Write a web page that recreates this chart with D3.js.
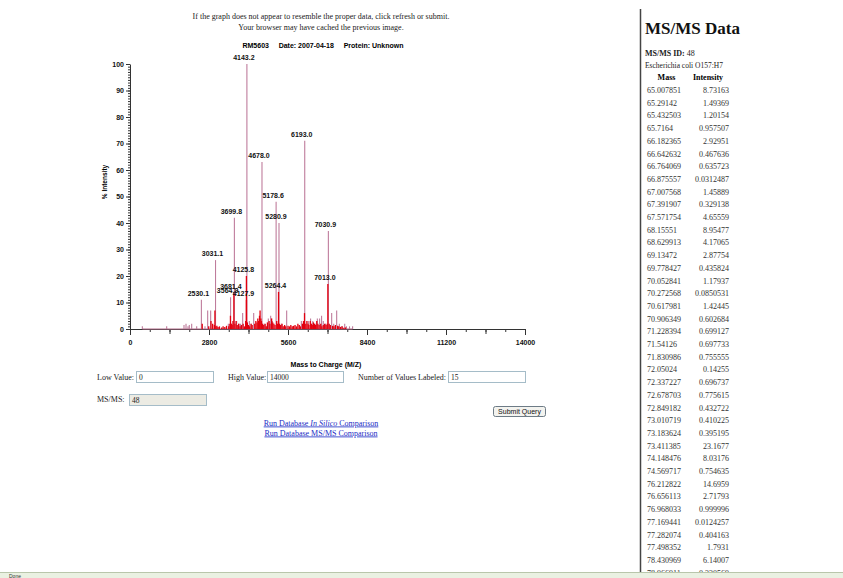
<!DOCTYPE html>
<html>
<head>
<meta charset="utf-8">
<script src="https://cdn.jsdelivr.net/npm/d3@7"></script>
<style>
body { margin: 0; background: #fff; }
svg { display: block; }
</style>
</head>
<body>
<svg id="page" width="843" height="578"></svg>
<script>
// single sharp peaks (drawn mauve)
var sharpMz = [437, 1300, 1914, 1985, 2056, 2102, 2186, 2363, 2530.1, 2658, 2753, 2859, 3031.1, 3485, 3564.9, 3610, 3699.8, 3780, 3870, 3920, 3993, 4143.2, 4230, 4300, 4384, 4678.0, 4760, 4903, 4986, 5050, 5178.6, 5280.9, 5370, 5553, 6073, 6193.0, 6320, 6400, 6480, 6560, 6640, 6720, 6790, 6850, 6930, 7030.9, 7148, 7220, 7325, 7420, 7500, 7610, 7670, 7780, 7890];
var sharpInt = [1, 1, 1.5, 2, 1, 1.5, 2, 1, 11, 1, 7, 7, 26, 2, 12, 2, 42, 3, 2, 2, 6, 100, 3, 2, 6, 63, 2, 4, 5, 3, 48, 40, 2, 7, 3, 71, 3, 4, 3, 2, 4, 4, 5, 3, 2, 37, 6, 2, 7, 2, 1, 2, 1, 1, 1];

// dense low peaks (drawn red)
var noiseMz = [2560, 2790, 2870, 2930, 2990, 3010, 3045, 3080, 3120, 3170, 3250, 3300, 3360, 3420, 3500, 3540, 3560, 3590, 3620, 3650, 3681.4, 3720, 3760, 3800, 3850, 3900, 3950, 4010, 4060, 4100, 4125.8, 4127.9, 4160, 4200, 4240, 4290, 4330, 4420, 4460, 4500, 4530, 4560, 4590, 4610, 4640, 4660, 4700, 4740, 4790, 4830, 4870, 4930, 4960, 5020, 5060, 5100, 5140, 5200, 5230, 5264.4, 5300, 5340, 5390, 5430, 5480, 5520, 5600, 5650, 5700, 5750, 5800, 5850, 5900, 5950, 6000, 6040, 6110, 6150, 6185, 6230, 6270, 6310, 6340, 6390, 6430, 6460, 6500, 6540, 6580, 6620, 6660, 6700, 6760, 6800, 6850, 6900, 6950, 6990, 7013.0, 7060, 7100, 7180, 7230, 7280, 7360, 7400, 7460, 7520, 7580, 7640];
var noiseInt = [2, 1, 3, 2, 1.5, 7, 1, 1.2, 0.8, 1, 0.6, 1, 0.8, 1.2, 1, 2, 5, 2, 1.5, 3, 13.5, 2, 3, 1.5, 2, 1, 1.5, 2, 1, 3, 20, 11, 2.5, 1.5, 1, 2, 1.5, 2, 3, 2.5, 4, 3, 5, 7, 4, 3, 2, 1.5, 2, 1, 2.5, 3, 2, 4, 2.5, 2, 1.5, 3, 2, 14, 2, 1.5, 2, 1, 1.5, 1, 1.2, 1, 1.5, 1, 1.2, 1.5, 1, 2, 1.5, 1, 2, 3, 6, 2, 3, 2, 1.5, 3, 2, 1.5, 2.5, 2, 1.5, 3, 2, 1.5, 2, 1, 1.5, 2, 1.5, 2, 17, 2, 1.5, 1.2, 1, 1.5, 1.2, 1, 0.8, 1, 0.5, 0.6];

var labeledMz = [4143.2, 6193.0, 4678.0, 5178.6, 3699.8, 5280.9, 7030.9, 3031.1, 4125.8, 7013.0, 3681.4, 5264.4, 3564.9, 4127.9, 2530.1];

var xTickLabels = [0, 2800, 5600, 8400, 11200, 14000];
var yTickLabels = [0, 10, 20, 30, 40, 50, 60, 70, 80, 90, 100];

var tableMass = ["65.007851", "65.29142", "65.432503", "65.7164", "66.182365", "66.642632", "66.764069", "66.875557", "67.007568", "67.391907", "67.571754", "68.15551", "68.629913", "69.13472", "69.778427", "70.052841", "70.272568", "70.617981", "70.906349", "71.228394", "71.54126", "71.830986", "72.05024", "72.337227", "72.678703", "72.849182", "73.010719", "73.183624", "73.411385", "74.148476", "74.569717", "76.212822", "76.656113", "76.968033", "77.169441", "77.282074", "77.498352", "78.430969", "78.966911"];
var tableIntensity = ["8.73163", "1.49369", "1.20154", "0.957507", "2.92951", "0.467636", "0.635723", "0.0312487", "1.45889", "0.329138", "4.65559", "8.95477", "4.17065", "2.87754", "0.435824", "1.17937", "0.0850531", "1.42445", "0.602684", "0.699127", "0.697733", "0.755555", "0.14255", "0.696737", "0.775615", "0.432722", "0.410225", "0.395195", "23.1677", "8.03176", "0.754635", "14.6959", "2.71793", "0.999996", "0.0124257", "0.404163", "1.7931", "6.14007", "0.330569"];

var svg = d3.select("#page");
var serif = "'Liberation Serif', 'Times New Roman', serif";
var sans = "'Liberation Sans', Arial, sans-serif";

// header text
svg.append("text").attr("x", 321).attr("y", 19).attr("text-anchor", "middle")
	.style("font", "8px " + serif).attr("fill", "#222")
	.text("If the graph does not appear to resemble the proper data, click refresh or submit.");
svg.append("text").attr("x", 321).attr("y", 30).attr("text-anchor", "middle")
	.style("font", "8px " + serif).attr("fill", "#222")
	.text("Your browser may have cached the previous image.");

svg.append("text").attr("x", 323).attr("y", 48).attr("text-anchor", "middle")
	.style("font", "bold 7px " + sans).attr("xml:space", "preserve")
	.text("RM5603     Date: 2007-04-18     Protein: Unknown");

// scales
var x = d3.scaleLinear().domain([0, 14000]).range([130, 525]);
var y = d3.scaleLinear().domain([0, 100]).range([329, 64]);

var g = svg.append("g");

// minor ticks
g.append("g").attr("transform", "translate(130,0)")
	.call(d3.axisLeft(y).tickValues(d3.range(0, 101, 1)).tickSize(2).tickFormat(""))
	.call(function (s) { s.select(".domain").remove(); s.selectAll("line").attr("stroke", "#333"); });
g.append("g").attr("transform", "translate(0,329)")
	.call(d3.axisBottom(x).tickValues(d3.range(0, 14001, 700)).tickSize(3).tickFormat(""))
	.call(function (s) { s.select(".domain").remove(); s.selectAll("line").attr("stroke", "#333"); });
g.append("g").attr("transform", "translate(0,329)")
	.call(d3.axisBottom(x).tickValues(d3.range(0, 14001, 1400)).tickSize(5).tickFormat(""))
	.call(function (s) { s.select(".domain").remove(); s.selectAll("line").attr("stroke", "#333"); });

// main axes
var yAxis = g.append("g").attr("transform", "translate(130,0)")
	.call(d3.axisLeft(y).tickValues(yTickLabels).tickSize(4).tickSizeOuter(0).tickPadding(2).tickFormat(d3.format("d")));
var xAxis = g.append("g").attr("transform", "translate(0,329)")
	.call(d3.axisBottom(x).tickValues(xTickLabels).tickSize(6).tickSizeOuter(0).tickPadding(5).tickFormat(d3.format("d")));
[yAxis, xAxis].forEach(function (a) {
	a.select(".domain").attr("stroke", "#333");
	a.selectAll("line").attr("stroke", "#333");
	a.selectAll("text").style("font", "bold 7px " + sans).attr("fill", "#111");
});

svg.append("text").attr("transform", "translate(107,182) rotate(-90)")
	.attr("text-anchor", "middle").style("font", "bold 6.5px " + sans).text("% Intensity");
svg.append("text").attr("x", 326).attr("y", 367).attr("text-anchor", "middle")
	.style("font", "bold 7px " + sans).text("Mass to Charge (M/Z)");

// spectrum
var sharp = sharpMz.map(function (m, i) { return { mz: m, v: sharpInt[i] }; });
var noise = noiseMz.map(function (m, i) { return { mz: m, v: noiseInt[i] }; });

g.append("line")
	.attr("x1", x(d3.min(sharpMz))).attr("x2", x(d3.max(sharpMz)))
	.attr("y1", y(0)).attr("y2", y(0))
	.attr("stroke", "#b06a88").attr("stroke-width", 1);

g.selectAll(".sharp").data(sharp).enter().append("line")
	.attr("class", "sharp")
	.attr("x1", function (d) { return x(d.mz); })
	.attr("x2", function (d) { return x(d.mz); })
	.attr("y1", y(0))
	.attr("y2", function (d) { return y(d.v); })
	.attr("stroke", "#bf7c9c").attr("stroke-width", 1.1);

g.selectAll(".noise").data(noise).enter().append("line")
	.attr("class", "noise")
	.attr("x1", function (d) { return x(d.mz); })
	.attr("x2", function (d) { return x(d.mz); })
	.attr("y1", y(0))
	.attr("y2", function (d) { return y(d.v); })
	.attr("stroke", "#e3000f").attr("stroke-width", 1.3);

var all = sharp.concat(noise);
g.selectAll(".lbl").data(labeledMz).enter().append("text")
	.attr("class", "lbl")
	.attr("x", function (m) { return x(m) - 3; })
	.attr("y", function (m) {
		var p = all.find(function (d) { return d.mz === m; });
		return y(p.v) - 4;
	})
	.attr("text-anchor", "middle")
	.style("font", "bold 7px " + sans).attr("fill", "#111")
	.text(function (m) { return m.toFixed(1); });

// form
function label(tx, ty, s) {
	svg.append("text").attr("x", tx).attr("y", ty).style("font", "8px " + serif).attr("fill", "#222").text(s);
}
function input(ix, iy, w, val, fill) {
	svg.append("rect").attr("x", ix + 0.5).attr("y", iy + 0.5).attr("width", w).attr("height", 11)
		.attr("fill", fill).attr("stroke", "#a5bcc8");
	svg.append("text").attr("x", ix + 3).attr("y", iy + 8.5).style("font", "7.5px " + serif).attr("fill", "#222").text(val);
}
label(97, 380, "Low Value:");
input(136, 371, 77, "0", "#fff");
label(228, 380, "High Value:");
input(267, 371, 76, "14000", "#fff");
label(358, 380, "Number of Values Labeled:");
input(448, 371, 77, "15", "#fff");
label(97, 402, "MS/MS:");
input(129, 394, 77, "48", "#ecebe3");

svg.append("rect").attr("x", 493.5).attr("y", 406.5).attr("width", 52).attr("height", 10).attr("rx", 2)
	.attr("fill", "#f3f3ef").attr("stroke", "#6d7b86");
svg.append("text").attr("x", 519.5).attr("y", 414.2).attr("text-anchor", "middle")
	.style("font", "7px " + sans).attr("fill", "#111").text("Submit Query");

var link1 = svg.append("text").attr("x", 321).attr("y", 425.5).attr("text-anchor", "middle")
	.style("font", "8px " + serif).attr("fill", "#1a2bc4").attr("text-decoration", "underline");
link1.append("tspan").text("Run Database ");
link1.append("tspan").style("font-style", "italic").text("In Silico");
link1.append("tspan").text(" Comparison");
svg.append("text").attr("x", 321).attr("y", 435.5).attr("text-anchor", "middle")
	.style("font", "8px " + serif).attr("fill", "#1a2bc4").attr("text-decoration", "underline")
	.text("Run Database MS/MS Comparison");

// right panel
svg.append("line").attr("x1", 640.5).attr("x2", 640.5).attr("y1", 9).attr("y2", 578)
	.attr("stroke", "#444").attr("stroke-width", 1.5);
svg.append("text").attr("x", 645).attr("y", 34).style("font", "bold 17px " + serif).attr("fill", "#111").text("MS/MS Data");
var idt = svg.append("text").attr("x", 645).attr("y", 56).style("font", "8px " + serif).attr("fill", "#222");
idt.append("tspan").style("font-weight", "bold").text("MS/MS ID:");
idt.append("tspan").text(" 48");
svg.append("text").attr("x", 645).attr("y", 68).style("font", "7.5px " + serif).attr("fill", "#222").text("Escherichia coli O157:H7");
svg.append("text").attr("x", 666.5).attr("y", 80).attr("text-anchor", "middle").style("font", "bold 8px " + serif).text("Mass");
svg.append("text").attr("x", 708).attr("y", 80).attr("text-anchor", "middle").style("font", "bold 8px " + serif).text("Intensity");

var rowY = d3.scaleLinear().domain([0, 1]).range([93, 105.7]);
var rows = svg.append("g");
rows.selectAll(".m").data(tableMass).enter().append("text")
	.attr("x", 647).attr("y", function (d, i) { return rowY(i); })
	.style("font", "8px " + serif).attr("fill", "#333").text(function (d) { return d; });
rows.selectAll(".iv").data(tableIntensity).enter().append("text")
	.attr("x", 729).attr("y", function (d, i) { return rowY(i); }).attr("text-anchor", "end")
	.style("font", "8px " + serif).attr("fill", "#333").text(function (d) { return d; });

// status bar
svg.append("rect").attr("x", 0).attr("y", 572).attr("width", 843).attr("height", 6).attr("fill", "#eaf1e2");
svg.append("line").attr("x1", 0).attr("x2", 843).attr("y1", 572.5).attr("y2", 572.5).attr("stroke", "#b9c6ab");
svg.append("text").attr("x", 9).attr("y", 577.5).style("font", "5px " + sans).attr("fill", "#333").text("Done");
</script>
</body>
</html>
